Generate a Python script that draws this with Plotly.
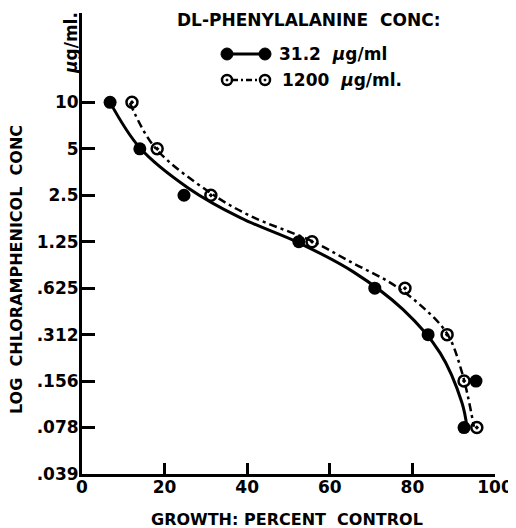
import plotly.graph_objects as go

# Observed points (x = growth % of control, y = chloramphenicol conc, µg/ml)
conc = [10, 5, 2.5, 1.25, 0.625, 0.3125, 0.15625, 0.078125]
growth_low = [6.8, 14.0, 24.7, 52.5, 70.9, 83.8, 95.4, 92.5]      # 31.2 µg/ml
growth_high = [12.1, 18.2, 31.2, 55.7, 78.2, 88.4, 92.5, 95.6]    # 1200 µg/ml

# Hand-drawn fitted curves
curve_low_x = [6.8, 14.0, 25.7, 38.3, 52.5, 65.6, 77.7, 86.7, 92.0, 93.2]
curve_low_y = [10.0, 5.08, 2.79, 1.79, 1.23, 0.80, 0.455, 0.238, 0.113, 0.079]
curve_high_x = [11.6, 17.7, 31.0, 40.7, 55.7, 65.6, 74.6, 81.8, 88.4, 92.0, 94.9]
curve_high_y = [9.92, 5.08, 2.60, 1.84, 1.26, 0.908, 0.679, 0.489, 0.317, 0.178, 0.079]

ytick_vals = [0.0390625, 0.078125, 0.15625, 0.3125, 0.625, 1.25, 2.5, 5, 10]
ytick_text = [".039", ".078", ".156", ".312", ".625", "1.25", "2.5", "5", "10"]
xtick_vals = [0, 20, 40, 60, 80, 100]

FONT = "DejaVu Sans"
BLACK = "#000000"

fig = go.Figure()
fig.add_trace(go.Scatter(x=curve_low_x, y=curve_low_y, mode="lines",
                         line=dict(color=BLACK, width=3, shape="spline", smoothing=1.0),
                         showlegend=False, hoverinfo="skip"))
fig.add_trace(go.Scatter(x=curve_high_x, y=curve_high_y, mode="lines",
                         line=dict(color=BLACK, width=2.5, shape="spline", smoothing=1.0, dash="8px,4px,3px,4px"),
                         showlegend=False, hoverinfo="skip"))
fig.add_trace(go.Scatter(x=growth_low, y=conc, mode="markers", name="31.2 µg/ml",
                         marker=dict(symbol="circle", size=13, color=BLACK), showlegend=False))
fig.add_trace(go.Scatter(x=growth_high, y=conc, mode="markers", name="1200 µg/ml.",
                         marker=dict(symbol="circle-open-dot", size=11, color=BLACK, line=dict(width=2.5, color=BLACK)),
                         showlegend=False))

OFF = 8  # page body margin
W, H = 508, 520
L, R, T, B = 74, 21, 5, 54
PW, PH = W - L - R, H - T - B

def px(xp):
    return (xp - OFF - L) / PW

def py(yp):
    return 1 - (yp - OFF - T) / PH

shapes = []
# legend line 1 (solid)
shapes.append(dict(type="line", xref="paper", yref="paper", x0=px(227), x1=px(265), y0=py(54), y1=py(54),
                   line=dict(color=BLACK, width=3)))
for cx in (227, 265):
    shapes.append(dict(type="circle", xref="paper", yref="paper", x0=px(cx - 6), x1=px(cx + 6), y0=py(60), y1=py(48),
                       fillcolor=BLACK, line=dict(color=BLACK, width=1)))
# legend line 2 (dash-dot)
shapes.append(dict(type="line", xref="paper", yref="paper", x0=px(232), x1=px(260), y0=py(80), y1=py(80),
                   line=dict(color=BLACK, width=2.5, dash="6px,3px,2px,3px")))
for cx in (227, 265):
    shapes.append(dict(type="circle", xref="paper", yref="paper", x0=px(cx - 5), x1=px(cx + 5), y0=py(85), y1=py(75),
                       fillcolor="white", line=dict(color=BLACK, width=2.5)))
    shapes.append(dict(type="circle", xref="paper", yref="paper", x0=px(cx - 1), x1=px(cx + 1), y0=py(81), y1=py(79),
                       fillcolor=BLACK, line=dict(color=BLACK, width=1)))

annotations = [
    dict(text="<b>DL-PHENYLALANINE  CONC:</b>", x=px(308), y=py(20), xref="paper", yref="paper",
         showarrow=False, font=dict(family=FONT, size=17, color=BLACK), xanchor="center", yanchor="middle"),
    dict(text="<b>31.2  <i>µ</i>g/ml</b>", x=px(277), y=py(54), xref="paper", yref="paper",
         showarrow=False, font=dict(family=FONT, size=17, color=BLACK), xanchor="left", yanchor="middle"),
    dict(text="<b>1200  <i>µ</i>g/ml.</b>", x=px(280), y=py(80), xref="paper", yref="paper",
         showarrow=False, font=dict(family=FONT, size=17, color=BLACK), xanchor="left", yanchor="middle"),
    dict(text="<b><i>µ</i>g/ml.</b>", x=px(71), y=py(43), xref="paper", yref="paper", textangle=-90,
         showarrow=False, font=dict(family=FONT, size=17, color=BLACK), xanchor="center", yanchor="middle"),
    dict(text="<b>LOG  CHLORAMPHENICOL  CONC</b>", x=px(16), y=py(270), xref="paper", yref="paper", textangle=-90,
         showarrow=False, font=dict(family=FONT, size=16, color=BLACK), xanchor="center", yanchor="middle"),
    dict(text="<b>GROWTH: PERCENT  CONTROL</b>", x=px(287), y=py(519), xref="paper", yref="paper",
         showarrow=False, font=dict(family=FONT, size=16, color=BLACK), xanchor="center", yanchor="middle"),
]

fig.update_layout(
    width=W, height=H,
    margin=dict(l=L, r=R, t=T, b=B, autoexpand=False),
    paper_bgcolor="white", plot_bgcolor="white",
    shapes=shapes, annotations=annotations,
    xaxis=dict(range=[0, 100], tickvals=xtick_vals, ticktext=[str(v) for v in xtick_vals],
               ticks="inside", ticklen=11, tickwidth=2.5, tickcolor=BLACK, ticklabelstandoff=-4,
               showline=True, linecolor=BLACK, linewidth=3, showgrid=False, zeroline=False,
               tickfont=dict(family=FONT, size=17, color=BLACK, weight="bold")),
    yaxis=dict(type="log", range=[-1.4083, 1.579], tickvals=ytick_vals, ticktext=ytick_text,
               ticks="inside", ticklen=13, tickwidth=2.5, tickcolor=BLACK, ticklabelstandoff=-3,
               showline=True, linecolor=BLACK, linewidth=3, showgrid=False, zeroline=False,
               tickfont=dict(family=FONT, size=17, color=BLACK, weight="bold")),
)

fig.write_html("out.html")
